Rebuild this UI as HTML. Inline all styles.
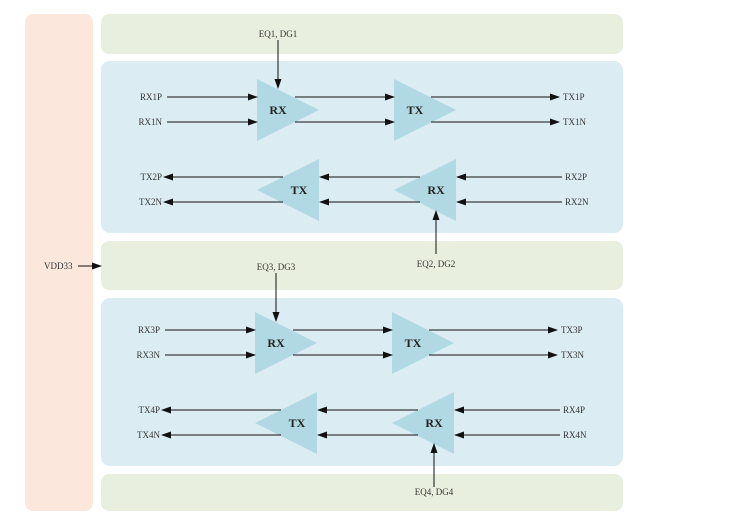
<!DOCTYPE html>
<html><head><meta charset="utf-8"><style>
html,body{margin:0;padding:0;background:#fff;width:729px;height:523px;overflow:hidden}
svg{display:block}
text{font-family:"Liberation Serif",serif;fill:#333}
.l{font-size:9px}
.b{font-size:12px;font-weight:bold;fill:#222}
</style></head><body>
<svg width="729" height="523" viewBox="0 0 729 523">
<defs>
<marker id="a" markerWidth="10" markerHeight="8" refX="9" refY="4" orient="auto" markerUnits="userSpaceOnUse">
<path d="M0,0.5 L10,4 L0,7.5 z" fill="#111"/></marker>
<g id="blk">
<polygon points="257,79 319,110 257,141" fill="#b1d9e3"/>
<polygon points="394,79 456,110 394,141" fill="#b1d9e3"/>
<polygon points="319,159 257,190 319,221" fill="#b1d9e3"/>
<polygon points="456,159 394,190 456,221" fill="#b1d9e3"/>
<text class="b" x="278" y="114" text-anchor="middle">RX</text>
<text class="b" x="415" y="114" text-anchor="middle">TX</text>
<text class="b" x="299" y="194" text-anchor="middle">TX</text>
<text class="b" x="436" y="194" text-anchor="middle">RX</text>
<g stroke="#111" stroke-width="1" marker-end="url(#a)">
<line x1="167" y1="97" x2="257" y2="97"/>
<line x1="167" y1="122" x2="257" y2="122"/>
<line x1="295" y1="97" x2="394" y2="97"/>
<line x1="295" y1="122" x2="394" y2="122"/>
<line x1="431" y1="97" x2="559" y2="97"/>
<line x1="431" y1="122" x2="559" y2="122"/>
<line x1="562" y1="177" x2="457" y2="177"/>
<line x1="562" y1="202" x2="457" y2="202"/>
<line x1="420" y1="177" x2="320" y2="177"/>
<line x1="420" y1="202" x2="320" y2="202"/>
<line x1="283" y1="177" x2="164" y2="177"/>
<line x1="283" y1="202" x2="164" y2="202"/>
<line x1="436" y1="254" x2="436" y2="211"/>
</g>
</g>
</defs>
<rect x="25" y="14" width="68" height="497" rx="8" fill="#fbe7dc"/>
<rect x="101" y="14" width="522" height="40" rx="8" fill="#e9efdf"/>
<rect x="101" y="241" width="522" height="49" rx="8" fill="#e9efdf"/>
<rect x="101" y="474" width="522" height="37" rx="8" fill="#e9efdf"/>
<rect x="101" y="61" width="522" height="172" rx="9" fill="#dbecf3"/>
<rect x="101" y="298" width="522" height="168" rx="9" fill="#dbecf3"/>
<use href="#blk"/>
<use href="#blk" transform="translate(-2,233)"/>
<g stroke="#111" stroke-width="1" marker-end="url(#a)">
<line x1="278" y1="40" x2="278" y2="88"/>
<line x1="276" y1="273" x2="276" y2="321"/>
<line x1="78" y1="266" x2="101" y2="266"/>
</g>
<g class="l">
<text class="l" x="278" y="37" text-anchor="middle">EQ1, DG1</text>
<text class="l" x="436" y="267" text-anchor="middle">EQ2, DG2</text>
<text class="l" x="276" y="270" text-anchor="middle">EQ3, DG3</text>
<text class="l" x="434" y="495" text-anchor="middle">EQ4, DG4</text>
<text class="l" x="44" y="269">VDD33</text>
<text class="l" x="162" y="100" text-anchor="end">RX1P</text>
<text class="l" x="162" y="125" text-anchor="end">RX1N</text>
<text class="l" x="162" y="180" text-anchor="end">TX2P</text>
<text class="l" x="162" y="205" text-anchor="end">TX2N</text>
<text class="l" x="563" y="100">TX1P</text>
<text class="l" x="563" y="125">TX1N</text>
<text class="l" x="565" y="180">RX2P</text>
<text class="l" x="565" y="205">RX2N</text>
<text class="l" x="160" y="333" text-anchor="end">RX3P</text>
<text class="l" x="160" y="358" text-anchor="end">RX3N</text>
<text class="l" x="160" y="413" text-anchor="end">TX4P</text>
<text class="l" x="160" y="438" text-anchor="end">TX4N</text>
<text class="l" x="561" y="333">TX3P</text>
<text class="l" x="561" y="358">TX3N</text>
<text class="l" x="563" y="413">RX4P</text>
<text class="l" x="563" y="438">RX4N</text>
</g>
</svg>
</body></html>
